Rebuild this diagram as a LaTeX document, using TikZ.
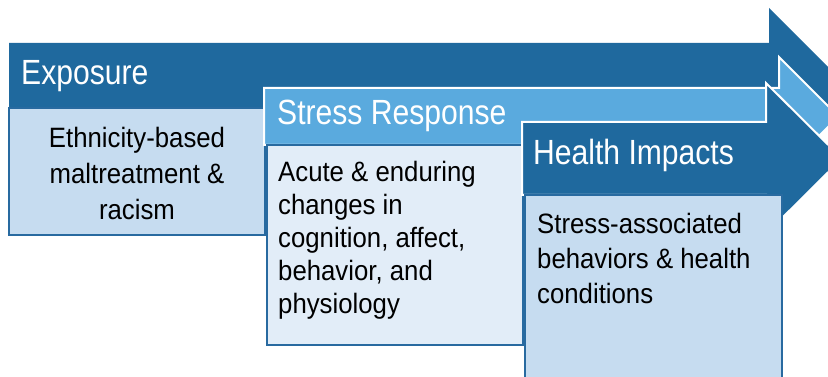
\documentclass[tikz,border=0pt]{standalone}
\usepackage{fontspec}
\newfontfamily\hdfont{Liberation Sans}[FakeStretch=0.86]
\newfontfamily\bdfont{Liberation Sans}[FakeStretch=0.92]
\definecolor{darkb}{RGB}{31,105,158}
\definecolor{lightb}{RGB}{90,170,222}
\definecolor{pale}{RGB}{198,220,240}
\definecolor{paler}{RGB}{226,237,248}
\definecolor{edgeb}{RGB}{40,106,160}
\begin{document}
\begin{tikzpicture}[x=1pt,y=-1pt,
  arrowdark/.style={fill=darkb,draw=white,line width=2pt},
  arrowlight/.style={fill=lightb,draw=white,line width=2pt},
  bodybox/.style={draw=edgeb,line width=1.5pt},
  headtext/.style={inner sep=0pt,text=white,font={\hdfont\fontsize{35}{40}\selectfont}},
  bodytext/.style={inner sep=0pt,text=black}]
\useasboundingbox (0,0) rectangle (828,377);
\clip (0,0) rectangle (828,377);
% Exposure arrow
\fill[darkb] (9,43) -- (769,43) -- (769,8) -- (852,91) -- (769,174) -- (769,139) -- (9,139) -- cycle;
\draw[bodybox,fill=pale] (9,108) rectangle (265,235);
% Stress Response arrow
\draw[arrowlight] (264,88) -- (779,88) -- (779,57) -- (838.5,116.5) -- (779,176) -- (779,145) -- (264,145) -- cycle;
\draw[bodybox,fill=paler] (267,145) rectangle (523,345);
% Health Impacts arrow
\draw[arrowdark] (522,122) -- (766,122) -- (766,83) -- (842,158.5) -- (766,234) -- (766,195) -- (522,195) -- cycle;
\draw[bodybox,fill=pale] (525,195) rectangle (782,390);
% texts
\node[headtext,anchor=base west] (exphead) at (21,85) {Exposure};
\node[headtext,anchor=base west] (strhead) at (277,125) {Stress Response};
\node[headtext,anchor=base west] (hlthead) at (533,165) {Health Impacts};
\node[bodytext,anchor=base,align=center,font={\bdfont\fontsize{28}{36}\selectfont}] (expbody) at (137,219)
  {Ethnicity-based\\maltreatment \&\\racism};
\node[bodytext,anchor=base west,align=left,font={\bdfont\fontsize{28}{33}\selectfont}] (strbody) at (278,313)
  {Acute \& enduring\\changes in\\cognition, affect,\\behavior, and\\physiology};
\node[bodytext,anchor=base west,align=left,font={\bdfont\fontsize{28}{35}\selectfont}] (hltbody) at (537,303)
  {Stress-associated\\behaviors \& health\\conditions};
\end{tikzpicture}
\end{document}
